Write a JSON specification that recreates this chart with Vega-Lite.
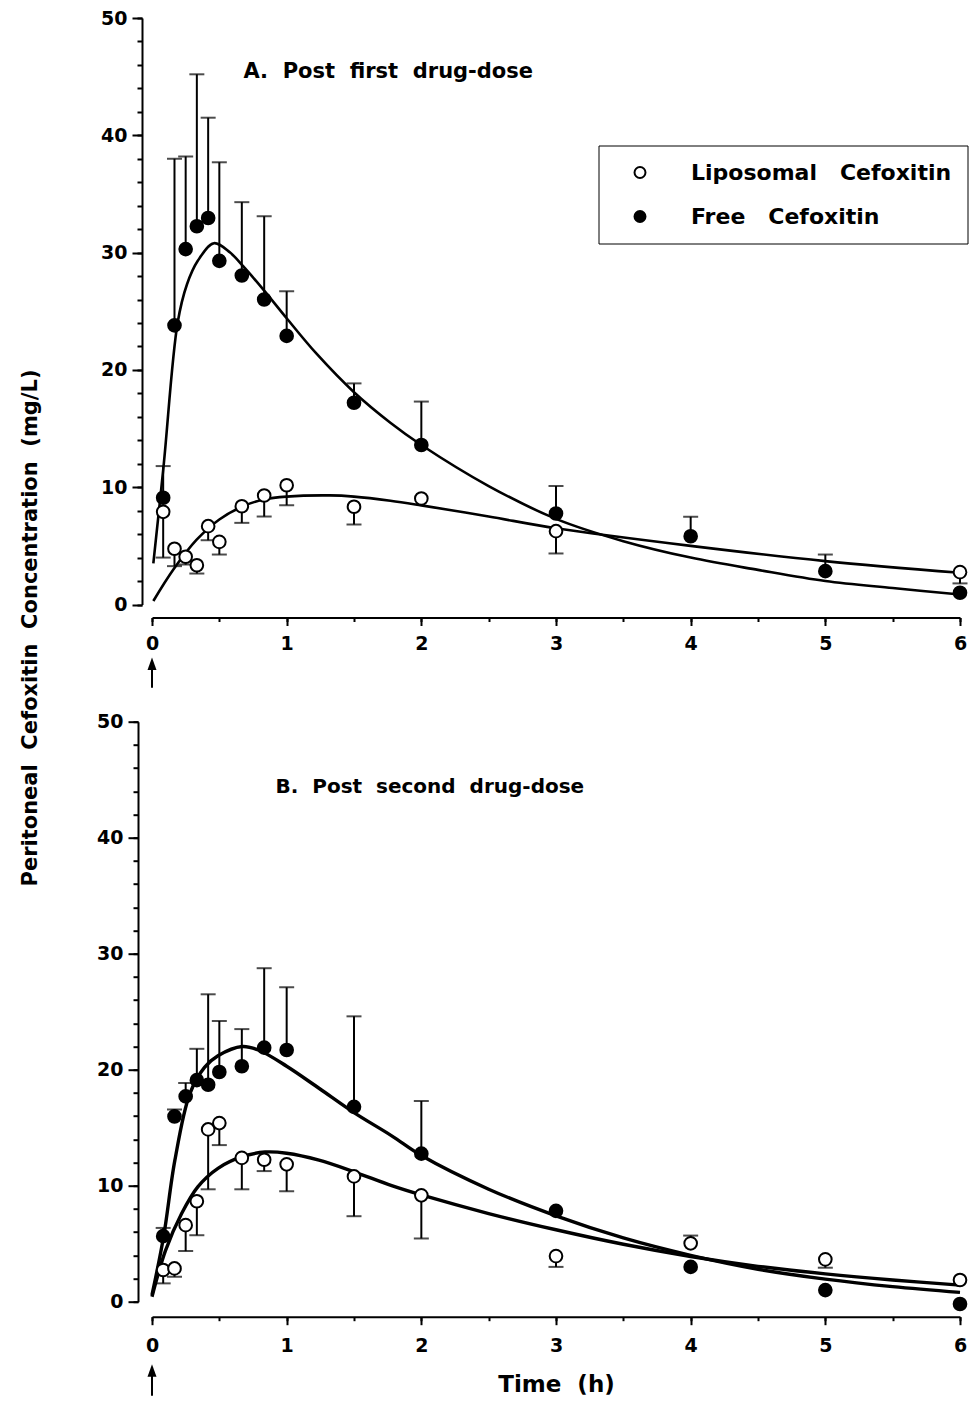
{
  "$schema": "https://vega.github.io/schema/vega-lite/v6.json",
  "background": "white",
  "padding": {"left": 19, "top": 9, "right": 0, "bottom": 0},
  "spacing": 116.7,
  "bounds": "flush",
  "config": {
    "view": {"stroke": null},
    "font": "DejaVu Sans",
    "axis": {
      "grid": false, "domainColor": "black", "tickColor": "black", "labelColor": "black", "titleColor": "black",
      "domainWidth": 2, "tickWidth": 2, "labelFont": "DejaVu Sans", "labelFontWeight": "bold", "labelFontSize": 19,
      "titleFont": "DejaVu Sans", "titleFontWeight": "bold", "titleFontSize": 21, "labelFlush": false, "labelOverlap": false
    }
  },
  "resolve": {"scale": {"fill": "independent"}, "legend": {"fill": "independent"}},
  "datasets": {
    "pts": [
      {"panel": "A", "series": "Free Cefoxitin", "t": 0.083, "conc": 9.1, "err": 11.8},
      {"panel": "A", "series": "Free Cefoxitin", "t": 0.167, "conc": 23.8, "err": 38.0},
      {"panel": "A", "series": "Free Cefoxitin", "t": 0.25, "conc": 30.3, "err": 38.2},
      {"panel": "A", "series": "Free Cefoxitin", "t": 0.333, "conc": 32.25, "err": 45.2},
      {"panel": "A", "series": "Free Cefoxitin", "t": 0.417, "conc": 32.95, "err": 41.5},
      {"panel": "A", "series": "Free Cefoxitin", "t": 0.5, "conc": 29.3, "err": 37.7},
      {"panel": "A", "series": "Free Cefoxitin", "t": 0.667, "conc": 28.05, "err": 34.3},
      {"panel": "A", "series": "Free Cefoxitin", "t": 0.833, "conc": 26.0, "err": 33.1},
      {"panel": "A", "series": "Free Cefoxitin", "t": 1.0, "conc": 22.9, "err": 26.7},
      {"panel": "A", "series": "Free Cefoxitin", "t": 1.5, "conc": 17.2, "err": 18.85},
      {"panel": "A", "series": "Free Cefoxitin", "t": 2.0, "conc": 13.6, "err": 17.3},
      {"panel": "A", "series": "Free Cefoxitin", "t": 3.0, "conc": 7.76, "err": 10.1},
      {"panel": "A", "series": "Free Cefoxitin", "t": 4.0, "conc": 5.82, "err": 7.48},
      {"panel": "A", "series": "Free Cefoxitin", "t": 5.0, "conc": 2.84, "err": 4.26},
      {"panel": "A", "series": "Free Cefoxitin", "t": 6.0, "conc": 1.0, "err": null},
      {"panel": "A", "series": "Liposomal Cefoxitin", "t": 0.083, "conc": 7.9, "err": 4.0},
      {"panel": "A", "series": "Liposomal Cefoxitin", "t": 0.167, "conc": 4.75, "err": 3.27},
      {"panel": "A", "series": "Liposomal Cefoxitin", "t": 0.25, "conc": 4.07, "err": 3.4},
      {"panel": "A", "series": "Liposomal Cefoxitin", "t": 0.333, "conc": 3.35, "err": 2.64},
      {"panel": "A", "series": "Liposomal Cefoxitin", "t": 0.417, "conc": 6.68, "err": 5.48},
      {"panel": "A", "series": "Liposomal Cefoxitin", "t": 0.5, "conc": 5.34, "err": 4.26},
      {"panel": "A", "series": "Liposomal Cefoxitin", "t": 0.667, "conc": 8.38, "err": 6.96},
      {"panel": "A", "series": "Liposomal Cefoxitin", "t": 0.833, "conc": 9.29, "err": 7.5},
      {"panel": "A", "series": "Liposomal Cefoxitin", "t": 1.0, "conc": 10.17, "err": 8.47},
      {"panel": "A", "series": "Liposomal Cefoxitin", "t": 1.5, "conc": 8.33, "err": 6.82},
      {"panel": "A", "series": "Liposomal Cefoxitin", "t": 2.0, "conc": 9.04, "err": null},
      {"panel": "A", "series": "Liposomal Cefoxitin", "t": 3.0, "conc": 6.25, "err": 4.35},
      {"panel": "A", "series": "Liposomal Cefoxitin", "t": 6.0, "conc": 2.76, "err": 1.8},
      {"panel": "B", "series": "Free Cefoxitin", "t": 0.083, "conc": 5.65, "err": 6.36},
      {"panel": "B", "series": "Free Cefoxitin", "t": 0.167, "conc": 15.97, "err": 16.57},
      {"panel": "B", "series": "Free Cefoxitin", "t": 0.25, "conc": 17.7, "err": 18.86},
      {"panel": "B", "series": "Free Cefoxitin", "t": 0.333, "conc": 19.1, "err": 21.8},
      {"panel": "B", "series": "Free Cefoxitin", "t": 0.417, "conc": 18.7, "err": 26.5},
      {"panel": "B", "series": "Free Cefoxitin", "t": 0.5, "conc": 19.8, "err": 24.2},
      {"panel": "B", "series": "Free Cefoxitin", "t": 0.667, "conc": 20.3, "err": 23.5},
      {"panel": "B", "series": "Free Cefoxitin", "t": 0.833, "conc": 21.9, "err": 28.75},
      {"panel": "B", "series": "Free Cefoxitin", "t": 1.0, "conc": 21.7, "err": 27.1},
      {"panel": "B", "series": "Free Cefoxitin", "t": 1.5, "conc": 16.8, "err": 24.6},
      {"panel": "B", "series": "Free Cefoxitin", "t": 2.0, "conc": 12.76, "err": 17.3},
      {"panel": "B", "series": "Free Cefoxitin", "t": 3.0, "conc": 7.83, "err": null},
      {"panel": "B", "series": "Free Cefoxitin", "t": 4.0, "conc": 3.0, "err": null},
      {"panel": "B", "series": "Free Cefoxitin", "t": 5.0, "conc": 1.0, "err": null},
      {"panel": "B", "series": "Free Cefoxitin", "t": 6.0, "conc": -0.2, "err": null},
      {"panel": "B", "series": "Liposomal Cefoxitin", "t": 0.083, "conc": 2.73, "err": 1.58},
      {"panel": "B", "series": "Liposomal Cefoxitin", "t": 0.167, "conc": 2.87, "err": 2.15},
      {"panel": "B", "series": "Liposomal Cefoxitin", "t": 0.25, "conc": 6.6, "err": 4.36},
      {"panel": "B", "series": "Liposomal Cefoxitin", "t": 0.333, "conc": 8.66, "err": 5.73},
      {"panel": "B", "series": "Liposomal Cefoxitin", "t": 0.417, "conc": 14.85, "err": 9.69},
      {"panel": "B", "series": "Liposomal Cefoxitin", "t": 0.5, "conc": 15.4, "err": 13.5},
      {"panel": "B", "series": "Liposomal Cefoxitin", "t": 0.667, "conc": 12.4, "err": 9.69},
      {"panel": "B", "series": "Liposomal Cefoxitin", "t": 0.833, "conc": 12.24, "err": 11.26},
      {"panel": "B", "series": "Liposomal Cefoxitin", "t": 1.0, "conc": 11.84, "err": 9.52},
      {"panel": "B", "series": "Liposomal Cefoxitin", "t": 1.5, "conc": 10.8, "err": 7.37},
      {"panel": "B", "series": "Liposomal Cefoxitin", "t": 2.0, "conc": 9.17, "err": 5.45},
      {"panel": "B", "series": "Liposomal Cefoxitin", "t": 3.0, "conc": 3.93, "err": 3.0},
      {"panel": "B", "series": "Liposomal Cefoxitin", "t": 4.0, "conc": 5.03, "err": 5.7},
      {"panel": "B", "series": "Liposomal Cefoxitin", "t": 5.0, "conc": 3.65, "err": 2.93},
      {"panel": "B", "series": "Liposomal Cefoxitin", "t": 6.0, "conc": 1.87, "err": null}
    ],
    "curves": [
      {"panel": "A", "series": "Free Cefoxitin", "t": 0.01, "conc": 3.5},
      {"panel": "A", "series": "Free Cefoxitin", "t": 0.086, "conc": 11.8},
      {"panel": "A", "series": "Free Cefoxitin", "t": 0.19, "conc": 24.0},
      {"panel": "A", "series": "Free Cefoxitin", "t": 0.26, "conc": 27.3},
      {"panel": "A", "series": "Free Cefoxitin", "t": 0.34, "conc": 29.3},
      {"panel": "A", "series": "Free Cefoxitin", "t": 0.46, "conc": 30.8},
      {"panel": "A", "series": "Free Cefoxitin", "t": 0.58, "conc": 30.0},
      {"panel": "A", "series": "Free Cefoxitin", "t": 0.68, "conc": 28.8},
      {"panel": "A", "series": "Free Cefoxitin", "t": 0.83, "conc": 26.8},
      {"panel": "A", "series": "Free Cefoxitin", "t": 1.0, "conc": 24.4},
      {"panel": "A", "series": "Free Cefoxitin", "t": 1.22, "conc": 21.4},
      {"panel": "A", "series": "Free Cefoxitin", "t": 1.5, "conc": 18.1},
      {"panel": "A", "series": "Free Cefoxitin", "t": 1.77, "conc": 15.5},
      {"panel": "A", "series": "Free Cefoxitin", "t": 2.0, "conc": 13.6},
      {"panel": "A", "series": "Free Cefoxitin", "t": 2.5, "conc": 10.1},
      {"panel": "A", "series": "Free Cefoxitin", "t": 3.0, "conc": 7.3},
      {"panel": "A", "series": "Free Cefoxitin", "t": 3.5, "conc": 5.4},
      {"panel": "A", "series": "Free Cefoxitin", "t": 4.0, "conc": 4.0},
      {"panel": "A", "series": "Free Cefoxitin", "t": 4.5, "conc": 2.95},
      {"panel": "A", "series": "Free Cefoxitin", "t": 5.0, "conc": 2.0},
      {"panel": "A", "series": "Free Cefoxitin", "t": 5.5, "conc": 1.4},
      {"panel": "A", "series": "Free Cefoxitin", "t": 6.0, "conc": 0.85},
      {"panel": "A", "series": "Liposomal Cefoxitin", "t": 0.01, "conc": 0.3},
      {"panel": "A", "series": "Liposomal Cefoxitin", "t": 0.16, "conc": 3.0},
      {"panel": "A", "series": "Liposomal Cefoxitin", "t": 0.33, "conc": 5.5},
      {"panel": "A", "series": "Liposomal Cefoxitin", "t": 0.5, "conc": 7.25},
      {"panel": "A", "series": "Liposomal Cefoxitin", "t": 0.68, "conc": 8.4},
      {"panel": "A", "series": "Liposomal Cefoxitin", "t": 0.83, "conc": 8.95},
      {"panel": "A", "series": "Liposomal Cefoxitin", "t": 1.0, "conc": 9.2},
      {"panel": "A", "series": "Liposomal Cefoxitin", "t": 1.32, "conc": 9.3},
      {"panel": "A", "series": "Liposomal Cefoxitin", "t": 1.5, "conc": 9.2},
      {"panel": "A", "series": "Liposomal Cefoxitin", "t": 1.77, "conc": 8.85},
      {"panel": "A", "series": "Liposomal Cefoxitin", "t": 2.0, "conc": 8.45},
      {"panel": "A", "series": "Liposomal Cefoxitin", "t": 2.5, "conc": 7.5},
      {"panel": "A", "series": "Liposomal Cefoxitin", "t": 3.0, "conc": 6.5},
      {"panel": "A", "series": "Liposomal Cefoxitin", "t": 4.0, "conc": 5.0},
      {"panel": "A", "series": "Liposomal Cefoxitin", "t": 5.0, "conc": 3.7},
      {"panel": "A", "series": "Liposomal Cefoxitin", "t": 6.0, "conc": 2.7},
      {"panel": "B", "series": "Free Cefoxitin", "t": 0.0, "conc": 0.58},
      {"panel": "B", "series": "Free Cefoxitin", "t": 0.086, "conc": 5.6},
      {"panel": "B", "series": "Free Cefoxitin", "t": 0.17, "conc": 12.2},
      {"panel": "B", "series": "Free Cefoxitin", "t": 0.28, "conc": 17.9},
      {"panel": "B", "series": "Free Cefoxitin", "t": 0.39, "conc": 20.2},
      {"panel": "B", "series": "Free Cefoxitin", "t": 0.49, "conc": 21.2},
      {"panel": "B", "series": "Free Cefoxitin", "t": 0.67, "conc": 22.0},
      {"panel": "B", "series": "Free Cefoxitin", "t": 0.79, "conc": 21.7},
      {"panel": "B", "series": "Free Cefoxitin", "t": 1.0, "conc": 20.3},
      {"panel": "B", "series": "Free Cefoxitin", "t": 1.24, "conc": 18.4},
      {"panel": "B", "series": "Free Cefoxitin", "t": 1.5, "conc": 16.3},
      {"panel": "B", "series": "Free Cefoxitin", "t": 1.78, "conc": 14.3},
      {"panel": "B", "series": "Free Cefoxitin", "t": 2.0, "conc": 12.6},
      {"panel": "B", "series": "Free Cefoxitin", "t": 2.5, "conc": 9.7},
      {"panel": "B", "series": "Free Cefoxitin", "t": 3.0, "conc": 7.4},
      {"panel": "B", "series": "Free Cefoxitin", "t": 3.5, "conc": 5.5},
      {"panel": "B", "series": "Free Cefoxitin", "t": 4.0, "conc": 4.0},
      {"panel": "B", "series": "Free Cefoxitin", "t": 4.5, "conc": 2.8},
      {"panel": "B", "series": "Free Cefoxitin", "t": 5.0, "conc": 1.95},
      {"panel": "B", "series": "Free Cefoxitin", "t": 5.5, "conc": 1.3},
      {"panel": "B", "series": "Free Cefoxitin", "t": 6.0, "conc": 0.8},
      {"panel": "B", "series": "Liposomal Cefoxitin", "t": 0.0, "conc": 0.43},
      {"panel": "B", "series": "Liposomal Cefoxitin", "t": 0.1, "conc": 4.4},
      {"panel": "B", "series": "Liposomal Cefoxitin", "t": 0.22, "conc": 7.6},
      {"panel": "B", "series": "Liposomal Cefoxitin", "t": 0.34, "conc": 9.9},
      {"panel": "B", "series": "Liposomal Cefoxitin", "t": 0.49, "conc": 11.5},
      {"panel": "B", "series": "Liposomal Cefoxitin", "t": 0.67, "conc": 12.5},
      {"panel": "B", "series": "Liposomal Cefoxitin", "t": 0.84, "conc": 12.9},
      {"panel": "B", "series": "Liposomal Cefoxitin", "t": 1.0, "conc": 12.8},
      {"panel": "B", "series": "Liposomal Cefoxitin", "t": 1.24, "conc": 12.2},
      {"panel": "B", "series": "Liposomal Cefoxitin", "t": 1.5, "conc": 11.2},
      {"panel": "B", "series": "Liposomal Cefoxitin", "t": 1.78, "conc": 10.0},
      {"panel": "B", "series": "Liposomal Cefoxitin", "t": 2.0, "conc": 9.2},
      {"panel": "B", "series": "Liposomal Cefoxitin", "t": 2.5, "conc": 7.6},
      {"panel": "B", "series": "Liposomal Cefoxitin", "t": 3.0, "conc": 6.2},
      {"panel": "B", "series": "Liposomal Cefoxitin", "t": 3.5, "conc": 4.95},
      {"panel": "B", "series": "Liposomal Cefoxitin", "t": 4.0, "conc": 3.9},
      {"panel": "B", "series": "Liposomal Cefoxitin", "t": 4.5, "conc": 3.05},
      {"panel": "B", "series": "Liposomal Cefoxitin", "t": 5.0, "conc": 2.4},
      {"panel": "B", "series": "Liposomal Cefoxitin", "t": 5.5, "conc": 1.87},
      {"panel": "B", "series": "Liposomal Cefoxitin", "t": 6.0, "conc": 1.43}
    ]
  },
  "vconcat": [
    {
      "width": 808,
      "height": 586.5,
      "resolve": {"axis": {"x": "independent", "y": "independent"}},
      "layer": [
        {
          "data": {"name": "pts"},
          "transform": [{"filter": "datum.panel === 'A' && isValid(datum.err)"}],
          "mark": {"type": "rule", "strokeWidth": 2, "color": "black"},
          "encoding": {
            "x": {"field": "t", "type": "quantitative", "scale": {"domain": [0, 6], "nice": false, "zero": false},
                  "axis": {"orient": "bottom", "values": [0, 0.5, 1, 1.5, 2, 2.5, 3, 3.5, 4, 4.5, 5, 5.5, 6], "tickSize": 4, "labels": false, "domain": false, "title": null, "offset": 13}},
            "y": {"field": "conc", "type": "quantitative", "scale": {"domain": [0, 50], "nice": false},
                  "axis": {"orient": "left", "values": [0, 2, 4, 6, 8, 10, 12, 14, 16, 18, 20, 22, 24, 26, 28, 30, 32, 34, 36, 38, 40, 42, 44, 46, 48, 50], "tickSize": 5, "labels": false, "domain": false, "title": null, "offset": 10}},
            "y2": {"field": "err"}
          }
        },
        {
          "data": {"name": "pts"},
          "transform": [{"filter": "datum.panel === 'A' && isValid(datum.err)"}],
          "mark": {"type": "tick", "orient": "horizontal", "size": 15, "thickness": 2, "color": "black"},
          "encoding": {
            "x": {"field": "t", "type": "quantitative", "axis": null},
            "y": {"field": "err", "type": "quantitative", "axis": null}
          }
        },
        {
          "data": {"name": "curves"},
          "transform": [{"filter": "datum.panel === 'A'"}],
          "mark": {"type": "line", "interpolate": "catmull-rom", "strokeWidth": 2.6, "color": "black"},
          "encoding": {
            "x": {"field": "t", "type": "quantitative",
                  "axis": {"orient": "bottom", "values": [0, 1, 2, 3, 4, 5, 6], "tickSize": 8, "labelPadding": 9, "title": null, "offset": 13, "format": "d"}},
            "y": {"field": "conc", "type": "quantitative",
                  "axis": {"orient": "left", "values": [0, 10, 20, 30, 40, 50], "tickSize": 10, "labelPadding": 5, "offset": 10,
                           "title": "Peritoneal\u00a0 Cefoxitin\u00a0 Concentration\u00a0 (mg/L)",
                           "titleX": -111.5, "titleY": 609.5, "titleAngle": 270, "titleAlign": "center", "titleBaseline": "middle", "titleFontSize": 21}},
            "detail": {"field": "series", "type": "nominal"}
          }
        },
        {
          "data": {"name": "pts"},
          "transform": [{"filter": "datum.panel === 'A'"}],
          "mark": {"type": "point", "shape": "circle", "filled": true, "stroke": "black", "strokeWidth": 2, "size": 160, "opacity": 1},
          "encoding": {
            "x": {"field": "t", "type": "quantitative", "axis": null},
            "y": {"field": "conc", "type": "quantitative", "axis": null},
            "fill": {"field": "series", "type": "nominal",
                     "scale": {"domain": ["Liposomal Cefoxitin", "Free Cefoxitin"], "range": ["white", "black"]},
                     "legend": {"orient": "none", "legendX": 446.5, "legendY": 127.5, "title": null, "strokeColor": "black", "fillColor": "white",
                                "padding": 16, "symbolType": "circle", "symbolSize": 120, "symbolStrokeColor": "black", "symbolStrokeWidth": 2,
                                "symbolOffset": 14.5, "labelOffset": 40, "rowPadding": 22, "labelFontSize": 22, "labelFontWeight": "bold",
                                "labelFont": "DejaVu Sans", "labelColor": "black", "labelLimit": 0,
                                "labelExpr": "replace(datum.label, ' ', '\u00a0\u00a0 ')",
                                "encode": {"legend": {"update": {"strokeWidth": {"value": 2}}}}}}
          }
        },
        {
          "data": {"values": [{}]},
          "mark": {"type": "text", "align": "left", "baseline": "middle", "fontSize": 21, "fontWeight": "bold", "font": "DejaVu Sans", "color": "black"},
          "encoding": {
            "x": {"datum": 0.679, "type": "quantitative", "axis": null},
            "y": {"datum": 45.4, "type": "quantitative", "axis": null},
            "text": {"value": "A.\u00a0 Post\u00a0 first\u00a0 drug-dose"}
          }
        },
        {
          "data": {"values": [{}]},
          "mark": {"type": "rule", "strokeWidth": 2, "color": "black"},
          "encoding": {
            "x": {"datum": 0, "type": "quantitative", "axis": null},
            "y": {"datum": -5.1, "type": "quantitative", "axis": null},
            "y2": {"datum": -7.1}
          }
        },
        {
          "data": {"values": [{}]},
          "mark": {"type": "point", "shape": "M0,-1L0.45,0.25L-0.45,0.25Z", "filled": true, "color": "black", "size": 400, "opacity": 1},
          "encoding": {
            "x": {"datum": 0, "type": "quantitative", "axis": null},
            "y": {"datum": -5.37, "type": "quantitative", "axis": null}
          }
        }
      ]
    },
    {
      "width": 808,
      "height": 580,
      "resolve": {"axis": {"x": "independent", "y": "independent"}},
      "layer": [
        {
          "data": {"name": "pts"},
          "transform": [{"filter": "datum.panel === 'B' && isValid(datum.err)"}],
          "mark": {"type": "rule", "strokeWidth": 2, "color": "black"},
          "encoding": {
            "x": {"field": "t", "type": "quantitative", "scale": {"domain": [0, 6], "nice": false, "zero": false},
                  "axis": {"orient": "bottom", "values": [0, 0.5, 1, 1.5, 2, 2.5, 3, 3.5, 4, 4.5, 5, 5.5, 6], "tickSize": 4, "labels": false, "domain": false, "title": null, "offset": 15}},
            "y": {"field": "conc", "type": "quantitative", "scale": {"domain": [0, 50], "nice": false},
                  "axis": {"orient": "left", "values": [0, 2, 4, 6, 8, 10, 12, 14, 16, 18, 20, 22, 24, 26, 28, 30, 32, 34, 36, 38, 40, 42, 44, 46, 48, 50], "tickSize": 5, "labels": false, "domain": false, "title": null, "offset": 14}},
            "y2": {"field": "err"}
          }
        },
        {
          "data": {"name": "pts"},
          "transform": [{"filter": "datum.panel === 'B' && isValid(datum.err)"}],
          "mark": {"type": "tick", "orient": "horizontal", "size": 15, "thickness": 2, "color": "black"},
          "encoding": {
            "x": {"field": "t", "type": "quantitative", "axis": null},
            "y": {"field": "err", "type": "quantitative", "axis": null}
          }
        },
        {
          "data": {"name": "curves"},
          "transform": [{"filter": "datum.panel === 'B'"}],
          "mark": {"type": "line", "interpolate": "catmull-rom", "strokeWidth": 3.4, "color": "black"},
          "encoding": {
            "x": {"field": "t", "type": "quantitative",
                  "axis": {"orient": "bottom", "values": [0, 1, 2, 3, 4, 5, 6], "tickSize": 8, "labelPadding": 12, "offset": 15, "format": "d",
                           "title": "Time\u00a0 (h)", "titlePadding": 18, "titleFontSize": 23}},
            "y": {"field": "conc", "type": "quantitative",
                  "axis": {"orient": "left", "values": [0, 10, 20, 30, 40, 50], "tickSize": 10, "labelPadding": 5, "offset": 14, "title": null}},
            "detail": {"field": "series", "type": "nominal"}
          }
        },
        {
          "data": {"name": "pts"},
          "transform": [{"filter": "datum.panel === 'B'"}],
          "mark": {"type": "point", "shape": "circle", "filled": true, "stroke": "black", "strokeWidth": 2, "size": 160, "opacity": 1},
          "encoding": {
            "x": {"field": "t", "type": "quantitative", "axis": null},
            "y": {"field": "conc", "type": "quantitative", "axis": null},
            "fill": {"field": "series", "type": "nominal",
                     "scale": {"domain": ["Liposomal Cefoxitin", "Free Cefoxitin"], "range": ["white", "black"]},
                     "legend": null}
          }
        },
        {
          "data": {"values": [{}]},
          "mark": {"type": "text", "align": "left", "baseline": "middle", "fontSize": 20, "fontWeight": "bold", "font": "DejaVu Sans", "color": "black"},
          "encoding": {
            "x": {"datum": 0.917, "type": "quantitative", "axis": null},
            "y": {"datum": 44.4, "type": "quantitative", "axis": null},
            "text": {"value": "B.\u00a0 Post\u00a0 second\u00a0 drug-dose"}
          }
        },
        {
          "data": {"values": [{}]},
          "mark": {"type": "rule", "strokeWidth": 2, "color": "black"},
          "encoding": {
            "x": {"datum": 0, "type": "quantitative", "axis": null},
            "y": {"datum": -6.0, "type": "quantitative", "axis": null},
            "y2": {"datum": -8.1}
          }
        },
        {
          "data": {"values": [{}]},
          "mark": {"type": "point", "shape": "M0,-1L0.45,0.25L-0.45,0.25Z", "filled": true, "color": "black", "size": 400, "opacity": 1},
          "encoding": {
            "x": {"datum": 0, "type": "quantitative", "axis": null},
            "y": {"datum": -6.25, "type": "quantitative", "axis": null}
          }
        }
      ]
    }
  ]
}
